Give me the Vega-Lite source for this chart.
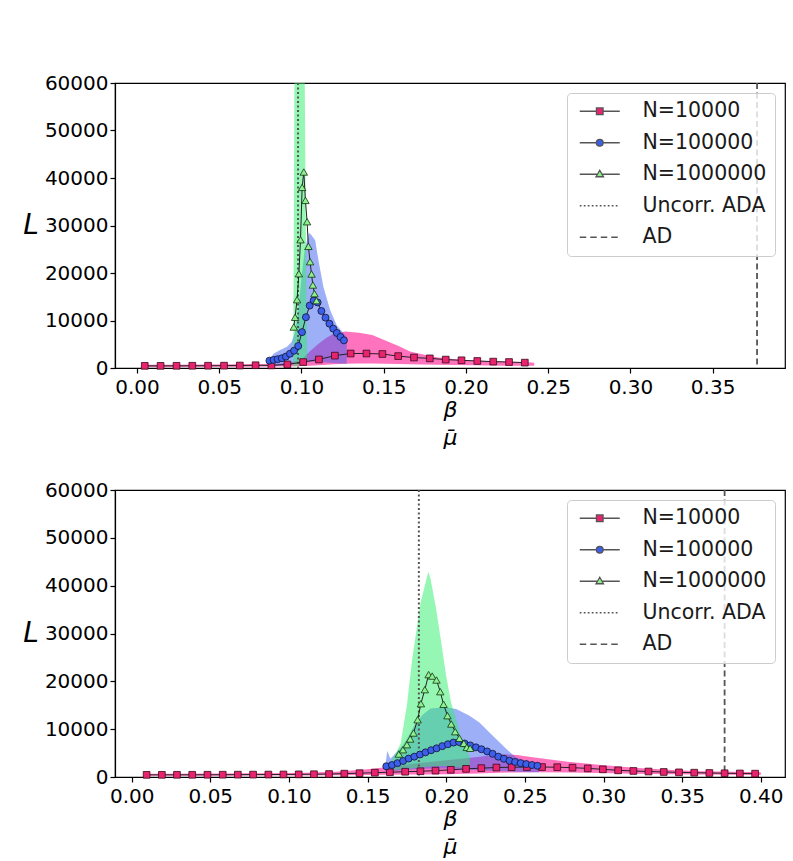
{
"$schema": "https://vega.github.io/schema/vega-lite/v6.json",
"padding": {"left": 22, "top": 72, "right": 5, "bottom": 5},
"background": "white",
"config": {
 "font": "DejaVu Sans",
 "view": {"stroke": "#000000", "strokeWidth": 1.2},
 "axis": {"grid": false, "domainColor": "#000000", "domainWidth": 1.2, "tickColor": "#000000", "tickSize": 5, "tickWidth": 1.2, "labelFont": "DejaVu Sans", "labelFontSize": 20, "labelColor": "#000000", "labelPadding": 4, "titleFont": "DejaVu Sans", "titleFontWeight": "normal", "titleFontStyle": "italic", "titleColor": "#000000", "labelOverlap": false, "labelFlush": false},
 "axisX": {"titleFontSize": 22, "titleLineHeight": 28, "titlePadding": 2},
 "axisY": {"titleFontSize": 28, "titleAngle": 0, "titleAlign": "right", "titleBaseline": "middle", "titlePadding": 6, "labelPadding": 2}
},
"datasets": {
 "tp": [
  {"s":"N=10000","x":0.0047,"y":450},{"s":"N=10000","x":0.0143,"y":450},{"s":"N=10000","x":0.0240,"y":460},{"s":"N=10000","x":0.0336,"y":470},{"s":"N=10000","x":0.0432,"y":480},{"s":"N=10000","x":0.0529,"y":490},{"s":"N=10000","x":0.0625,"y":520},{"s":"N=10000","x":0.0721,"y":580},{"s":"N=10000","x":0.0817,"y":550},{"s":"N=10000","x":0.0914,"y":750},{"s":"N=10000","x":0.1010,"y":1250},{"s":"N=10000","x":0.1106,"y":1800},{"s":"N=10000","x":0.1203,"y":2600},{"s":"N=10000","x":0.1299,"y":3050},{"s":"N=10000","x":0.1395,"y":3050},{"s":"N=10000","x":0.1492,"y":2950},{"s":"N=10000","x":0.1588,"y":2500},{"s":"N=10000","x":0.1684,"y":2200},{"s":"N=10000","x":0.1780,"y":2030},{"s":"N=10000","x":0.1877,"y":1770},{"s":"N=10000","x":0.1973,"y":1620},{"s":"N=10000","x":0.2069,"y":1480},{"s":"N=10000","x":0.2166,"y":1340},{"s":"N=10000","x":0.2262,"y":1260},{"s":"N=10000","x":0.2358,"y":1130},
  {"s":"N=100000","x":0.0805,"y":1550},{"s":"N=100000","x":0.0830,"y":1700},{"s":"N=100000","x":0.0855,"y":1850},{"s":"N=100000","x":0.0880,"y":2050},{"s":"N=100000","x":0.0905,"y":2400},{"s":"N=100000","x":0.0930,"y":3000},{"s":"N=100000","x":0.0955,"y":3650},{"s":"N=100000","x":0.0980,"y":4630},{"s":"N=100000","x":0.1003,"y":7550},{"s":"N=100000","x":0.1027,"y":10700},{"s":"N=100000","x":0.1050,"y":13150},{"s":"N=100000","x":0.1074,"y":14200},{"s":"N=100000","x":0.1098,"y":13800},{"s":"N=100000","x":0.1121,"y":12000},{"s":"N=100000","x":0.1146,"y":10600},{"s":"N=100000","x":0.1170,"y":9330},{"s":"N=100000","x":0.1193,"y":8280},{"s":"N=100000","x":0.1215,"y":7370},{"s":"N=100000","x":0.1237,"y":6530},{"s":"N=100000","x":0.1258,"y":5820},
  {"s":"N=1000000","x":0.0953,"y":8630},{"s":"N=1000000","x":0.0961,"y":10670},{"s":"N=1000000","x":0.0973,"y":14380},{"s":"N=1000000","x":0.0984,"y":19860},{"s":"N=1000000","x":0.0994,"y":27010},{"s":"N=1000000","x":0.1004,"y":38030},{"s":"N=1000000","x":0.1014,"y":41260},{"s":"N=1000000","x":0.1024,"y":35290},{"s":"N=1000000","x":0.1034,"y":30800},{"s":"N=1000000","x":0.1042,"y":25610},{"s":"N=1000000","x":0.1052,"y":22380},{"s":"N=1000000","x":0.1061,"y":19790},{"s":"N=1000000","x":0.1069,"y":17470},{"s":"N=1000000","x":0.1079,"y":15650},{"s":"N=1000000","x":0.1091,"y":14180}
 ],
 "tb": [
  {"s":"N=10000","x":0.0047,"lo":200,"hi":700},{"s":"N=10000","x":0.0240,"lo":220,"hi":700},{"s":"N=10000","x":0.0432,"lo":240,"hi":720},{"s":"N=10000","x":0.0625,"lo":260,"hi":780},{"s":"N=10000","x":0.0817,"lo":300,"hi":850},{"s":"N=10000","x":0.0914,"lo":330,"hi":1000},{"s":"N=10000","x":0.1000,"lo":400,"hi":1800},{"s":"N=10000","x":0.1050,"lo":500,"hi":3500},{"s":"N=10000","x":0.1100,"lo":600,"hi":5000},{"s":"N=10000","x":0.1150,"lo":700,"hi":6300},{"s":"N=10000","x":0.1200,"lo":800,"hi":7300},{"s":"N=10000","x":0.1267,"lo":900,"hi":7700},{"s":"N=10000","x":0.1350,"lo":950,"hi":7400},{"s":"N=10000","x":0.1430,"lo":950,"hi":6950},{"s":"N=10000","x":0.1510,"lo":900,"hi":5800},{"s":"N=10000","x":0.1590,"lo":850,"hi":4650},{"s":"N=10000","x":0.1660,"lo":800,"hi":3500},{"s":"N=10000","x":0.1733,"lo":750,"hi":2900},{"s":"N=10000","x":0.1830,"lo":700,"hi":2200},{"s":"N=10000","x":0.1936,"lo":650,"hi":1850},{"s":"N=10000","x":0.2040,"lo":600,"hi":1600},{"s":"N=10000","x":0.2138,"lo":550,"hi":1450},{"s":"N=10000","x":0.2250,"lo":500,"hi":1300},{"s":"N=10000","x":0.2401,"lo":450,"hi":1150},{"s":"N=10000","x":0.2415,"lo":450,"hi":1100},
  {"s":"N=100000","x":0.0800,"lo":500,"hi":1500},{"s":"N=100000","x":0.0830,"lo":500,"hi":3000},{"s":"N=100000","x":0.0870,"lo":600,"hi":3800},{"s":"N=100000","x":0.0910,"lo":700,"hi":4400},{"s":"N=100000","x":0.0940,"lo":800,"hi":5500},{"s":"N=100000","x":0.0960,"lo":900,"hi":7500},{"s":"N=100000","x":0.0980,"lo":1000,"hi":12000},{"s":"N=100000","x":0.1000,"lo":1100,"hi":19000},{"s":"N=100000","x":0.1020,"lo":1200,"hi":25000},{"s":"N=100000","x":0.1045,"lo":1300,"hi":28500},{"s":"N=100000","x":0.1060,"lo":1300,"hi":28000},{"s":"N=100000","x":0.1083,"lo":1300,"hi":26900},{"s":"N=100000","x":0.1103,"lo":1300,"hi":22700},{"s":"N=100000","x":0.1133,"lo":1200,"hi":17100},{"s":"N=100000","x":0.1174,"lo":1100,"hi":12200},{"s":"N=100000","x":0.1214,"lo":1000,"hi":9000},{"s":"N=100000","x":0.1264,"lo":900,"hi":7000},{"s":"N=100000","x":0.1275,"lo":900,"hi":6500},
  {"s":"N=1000000","x":0.0950,"lo":300,"hi":3000},{"s":"N=1000000","x":0.0958,"lo":300,"hi":70000},{"s":"N=1000000","x":0.1018,"lo":900,"hi":70000},{"s":"N=1000000","x":0.1025,"lo":1000,"hi":35000},{"s":"N=1000000","x":0.1030,"lo":1100,"hi":15000},{"s":"N=1000000","x":0.1034,"lo":1100,"hi":1100}
 ],
 "tv": [{"k":"ada","x":0.0979},{"k":"ad","x":0.377}],
 "bp": [
  {"s":"N=10000","x":0.0095,"y":450},{"s":"N=10000","x":0.0192,"y":450},{"s":"N=10000","x":0.0288,"y":460},{"s":"N=10000","x":0.0385,"y":460},{"s":"N=10000","x":0.0482,"y":470},{"s":"N=10000","x":0.0579,"y":480},{"s":"N=10000","x":0.0675,"y":490},{"s":"N=10000","x":0.0772,"y":500},{"s":"N=10000","x":0.0869,"y":510},{"s":"N=10000","x":0.0965,"y":530},{"s":"N=10000","x":0.1062,"y":550},{"s":"N=10000","x":0.1159,"y":580},{"s":"N=10000","x":0.1255,"y":620},{"s":"N=10000","x":0.1352,"y":700},{"s":"N=10000","x":0.1449,"y":800},{"s":"N=10000","x":0.1546,"y":900},{"s":"N=10000","x":0.1642,"y":1000},{"s":"N=10000","x":0.1739,"y":1100},{"s":"N=10000","x":0.1836,"y":1200},{"s":"N=10000","x":0.1932,"y":1330},{"s":"N=10000","x":0.2029,"y":1500},{"s":"N=10000","x":0.2126,"y":1700},{"s":"N=10000","x":0.2223,"y":1850},{"s":"N=10000","x":0.2319,"y":1980},{"s":"N=10000","x":0.2416,"y":2050},{"s":"N=10000","x":0.2513,"y":2080},{"s":"N=10000","x":0.2609,"y":2080},{"s":"N=10000","x":0.2706,"y":2050},{"s":"N=10000","x":0.2803,"y":1950},{"s":"N=10000","x":0.2900,"y":1800},{"s":"N=10000","x":0.2996,"y":1600},{"s":"N=10000","x":0.3093,"y":1400},{"s":"N=10000","x":0.3190,"y":1260},{"s":"N=10000","x":0.3286,"y":1150},{"s":"N=10000","x":0.3383,"y":1050},{"s":"N=10000","x":0.3480,"y":970},{"s":"N=10000","x":0.3577,"y":900},{"s":"N=10000","x":0.3673,"y":840},{"s":"N=10000","x":0.3770,"y":780},{"s":"N=10000","x":0.3867,"y":740},{"s":"N=10000","x":0.3964,"y":700},
  {"s":"N=100000","x":0.1619,"y":2250},{"s":"N=100000","x":0.1655,"y":2500},{"s":"N=100000","x":0.1690,"y":2900},{"s":"N=100000","x":0.1726,"y":3350},{"s":"N=100000","x":0.1761,"y":3850},{"s":"N=100000","x":0.1797,"y":4250},{"s":"N=100000","x":0.1833,"y":4700},{"s":"N=100000","x":0.1868,"y":5150},{"s":"N=100000","x":0.1904,"y":5600},{"s":"N=100000","x":0.1939,"y":6000},{"s":"N=100000","x":0.1975,"y":6450},{"s":"N=100000","x":0.2011,"y":6850},{"s":"N=100000","x":0.2046,"y":7200},{"s":"N=100000","x":0.2082,"y":7300},{"s":"N=100000","x":0.2117,"y":7000},{"s":"N=100000","x":0.2153,"y":6600},{"s":"N=100000","x":0.2189,"y":6200},{"s":"N=100000","x":0.2224,"y":5800},{"s":"N=100000","x":0.2260,"y":5350},{"s":"N=100000","x":0.2295,"y":4850},{"s":"N=100000","x":0.2331,"y":4250},{"s":"N=100000","x":0.2367,"y":3800},{"s":"N=100000","x":0.2402,"y":3400},{"s":"N=100000","x":0.2438,"y":3150},{"s":"N=100000","x":0.2473,"y":2900},{"s":"N=100000","x":0.2509,"y":2700},{"s":"N=100000","x":0.2545,"y":2500},{"s":"N=100000","x":0.2580,"y":2350},
  {"s":"N=1000000","x":0.1699,"y":4810},{"s":"N=1000000","x":0.1725,"y":5710},{"s":"N=1000000","x":0.1750,"y":6760},{"s":"N=1000000","x":0.1771,"y":7950},{"s":"N=1000000","x":0.1792,"y":9200},{"s":"N=1000000","x":0.1818,"y":11980},{"s":"N=1000000","x":0.1839,"y":15330},{"s":"N=1000000","x":0.1864,"y":18260},{"s":"N=1000000","x":0.1888,"y":21400},{"s":"N=1000000","x":0.1911,"y":21100},{"s":"N=1000000","x":0.1938,"y":20280},{"s":"N=1000000","x":0.1962,"y":17840},{"s":"N=1000000","x":0.1983,"y":15200},{"s":"N=1000000","x":0.2008,"y":12820},{"s":"N=1000000","x":0.2032,"y":11080},{"s":"N=1000000","x":0.2057,"y":9480},{"s":"N=1000000","x":0.2084,"y":8090},{"s":"N=1000000","x":0.2112,"y":7040},{"s":"N=1000000","x":0.2131,"y":6200},{"s":"N=1000000","x":0.2152,"y":6000}
 ],
 "bb": [
  {"s":"N=10000","x":0.0095,"lo":250,"hi":700},{"s":"N=10000","x":0.0300,"lo":260,"hi":700},{"s":"N=10000","x":0.0600,"lo":280,"hi":750},{"s":"N=10000","x":0.0900,"lo":300,"hi":800},{"s":"N=10000","x":0.1100,"lo":320,"hi":900},{"s":"N=10000","x":0.1300,"lo":350,"hi":1100},{"s":"N=10000","x":0.1500,"lo":400,"hi":1600},{"s":"N=10000","x":0.1600,"lo":450,"hi":2000},{"s":"N=10000","x":0.1800,"lo":500,"hi":2800},{"s":"N=10000","x":0.2000,"lo":600,"hi":3500},{"s":"N=10000","x":0.2200,"lo":750,"hi":4200},{"s":"N=10000","x":0.2342,"lo":900,"hi":4800},{"s":"N=10000","x":0.2450,"lo":950,"hi":4600},{"s":"N=10000","x":0.2561,"lo":1000,"hi":4100},{"s":"N=10000","x":0.2773,"lo":950,"hi":3200},{"s":"N=10000","x":0.2985,"lo":850,"hi":2500},{"s":"N=10000","x":0.3197,"lo":700,"hi":1950},{"s":"N=10000","x":0.3408,"lo":600,"hi":1530},{"s":"N=10000","x":0.3620,"lo":500,"hi":1180},{"s":"N=10000","x":0.3832,"lo":450,"hi":1110},{"s":"N=10000","x":0.4000,"lo":400,"hi":1000},
  {"s":"N=100000","x":0.1610,"lo":1200,"hi":1500},{"s":"N=100000","x":0.1625,"lo":1200,"hi":5500},{"s":"N=100000","x":0.1645,"lo":1200,"hi":3800},{"s":"N=100000","x":0.1680,"lo":1300,"hi":5000},{"s":"N=100000","x":0.1720,"lo":1400,"hi":6500},{"s":"N=100000","x":0.1760,"lo":1500,"hi":8500},{"s":"N=100000","x":0.1800,"lo":1600,"hi":11000},{"s":"N=100000","x":0.1850,"lo":1700,"hi":13000},{"s":"N=100000","x":0.1900,"lo":1800,"hi":14300},{"s":"N=100000","x":0.2000,"lo":1800,"hi":14600},{"s":"N=100000","x":0.2063,"lo":1700,"hi":14200},{"s":"N=100000","x":0.2148,"lo":1500,"hi":12800},{"s":"N=100000","x":0.2211,"lo":1400,"hi":11400},{"s":"N=100000","x":0.2296,"lo":1300,"hi":8600},{"s":"N=100000","x":0.2381,"lo":1200,"hi":5900},{"s":"N=100000","x":0.2444,"lo":1100,"hi":4100},{"s":"N=100000","x":0.2529,"lo":1000,"hi":3100},{"s":"N=100000","x":0.2590,"lo":1000,"hi":2500},
  {"s":"N=1000000","x":0.1640,"lo":1500,"hi":2500},{"s":"N=1000000","x":0.1680,"lo":1500,"hi":5000},{"s":"N=1000000","x":0.1710,"lo":1600,"hi":7000},{"s":"N=1000000","x":0.1750,"lo":1700,"hi":15000},{"s":"N=1000000","x":0.1784,"lo":1800,"hi":24700},{"s":"N=1000000","x":0.1837,"lo":2000,"hi":36500},{"s":"N=1000000","x":0.1886,"lo":2200,"hi":42900},{"s":"N=1000000","x":0.1900,"lo":2200,"hi":41500},{"s":"N=1000000","x":0.1936,"lo":2300,"hi":35100},{"s":"N=1000000","x":0.1968,"lo":2300,"hi":28200},{"s":"N=1000000","x":0.1999,"lo":2300,"hi":21200},{"s":"N=1000000","x":0.2031,"lo":2200,"hi":15600},{"s":"N=1000000","x":0.2063,"lo":2100,"hi":12100},{"s":"N=1000000","x":0.2095,"lo":2000,"hi":7950},{"s":"N=1000000","x":0.2127,"lo":1900,"hi":5850},{"s":"N=1000000","x":0.2150,"lo":1800,"hi":4000}
 ],
 "bv": [{"k":"ada","x":0.1826},{"k":"ad","x":0.377}]
},
"resolve": {"scale": {"color": "independent", "shape": "independent"}, "legend": {"color": "independent", "shape": "independent"}},
"spacing": 30,
"vconcat": [
 {
  "width": 670, "height": 285,
  "layer": [
   {"data": {"name": "tb"}, "transform": [{"filter": "datum.s === 'N=10000'"}], "mark": {"type": "area", "clip": true, "color": "#ff1493", "opacity": 0.6},
    "encoding": {"x": {"field": "x", "type": "quantitative", "title": ["β", "μ̄"], "scale": {"domain": [-0.0134, 0.394], "nice": false, "zero": false}, "axis": {"values": [0, 0.05, 0.1, 0.15, 0.2, 0.25, 0.3, 0.35], "format": ".2f"}},
     "y": {"field": "lo", "type": "quantitative", "title": "L", "scale": {"domain": [0, 60000], "nice": false}, "axis": {"values": [0, 10000, 20000, 30000, 40000, 50000, 60000], "format": "d"}}, "y2": {"field": "hi"}}},
   {"data": {"name": "tb"}, "transform": [{"filter": "datum.s === 'N=100000'"}], "mark": {"type": "area", "clip": true, "color": "#3a60f0", "opacity": 0.5},
    "encoding": {"x": {"field": "x", "type": "quantitative", "title": ["β", "μ̄"]}, "y": {"field": "lo", "type": "quantitative", "title": "L"}, "y2": {"field": "hi"}}},
   {"data": {"name": "tb"}, "transform": [{"filter": "datum.s === 'N=1000000'"}], "mark": {"type": "area", "clip": true, "color": "#2ef06a", "opacity": 0.5},
    "encoding": {"x": {"field": "x", "type": "quantitative", "title": ["β", "μ̄"]}, "y": {"field": "lo", "type": "quantitative", "title": "L"}, "y2": {"field": "hi"}}},
   {"data": {"name": "tv"}, "transform": [{"filter": "datum.k === 'ada'"}], "mark": {"type": "rule", "color": "#555555", "strokeWidth": 2, "strokeDash": [2, 2.5]},
    "encoding": {"x": {"field": "x", "type": "quantitative", "title": ["β", "μ̄"]}}},
   {"data": {"name": "tv"}, "transform": [{"filter": "datum.k === 'ad'"}], "mark": {"type": "rule", "color": "#555555", "strokeWidth": 1.8, "strokeDash": [6, 3.5]},
    "encoding": {"x": {"field": "x", "type": "quantitative", "title": ["β", "μ̄"]}}},
   {"data": {"name": "tp"}, "mark": {"type": "line", "color": "#222222", "strokeWidth": 1, "clip": true},
    "encoding": {"x": {"field": "x", "type": "quantitative", "title": ["β", "μ̄"]}, "y": {"field": "y", "type": "quantitative", "title": "L"}, "detail": {"field": "s", "type": "nominal"}}},
   {"data": {"name": "tp"}, "transform": [{"filter": "datum.s === 'N=10000'"}], "mark": {"type": "point", "shape": "square", "filled": true, "fill": "#e8246e", "stroke": "#3a0a1a", "strokeWidth": 0.8, "size": 45, "opacity": 1},
    "encoding": {"x": {"field": "x", "type": "quantitative", "title": ["β", "μ̄"]}, "y": {"field": "y", "type": "quantitative", "title": "L"}}},
   {"data": {"name": "tp"}, "transform": [{"filter": "datum.s === 'N=100000'"}], "mark": {"type": "point", "shape": "circle", "filled": true, "fill": "#3b5fe8", "stroke": "#111133", "strokeWidth": 0.8, "size": 49, "opacity": 1},
    "encoding": {"x": {"field": "x", "type": "quantitative", "title": ["β", "μ̄"]}, "y": {"field": "y", "type": "quantitative", "title": "L"}}},
   {"data": {"name": "tp"}, "transform": [{"filter": "datum.s === 'N=1000000'"}], "mark": {"type": "point", "shape": "triangle-up", "filled": true, "fill": "#8ff08f", "stroke": "#113311", "strokeWidth": 0.8, "size": 55, "opacity": 1},
    "encoding": {"x": {"field": "x", "type": "quantitative", "title": ["β", "μ̄"]}, "y": {"field": "y", "type": "quantitative", "title": "L"}}},
   {"data": {"name": "tp"}, "transform": [{"filter": "false"}], "mark": {"type": "point", "filled": true, "size": 100},
    "encoding": {
     "color": {"field": "s", "type": "nominal", "scale": {"domain": ["N=10000", "N=100000", "N=1000000", "Uncorr. ADA", "AD"], "range": ["#e8246e", "#3b5fe8", "#8ff08f", "#ffffff", "#ffffff"]},
      "legend": {"title": null, "orient": "top-right", "offset": 10, "padding": 8, "fillColor": "rgba(255,255,255,0.8)", "strokeColor": "#cccccc", "cornerRadius": 4, "labelFont": "DejaVu Sans", "labelFontSize": 20.5, "labelColor": "#1a1a1a", "labelLimit": 400, "labelOffset": 47, "rowPadding": 10.5, "symbolSize": 100, "symbolStrokeColor": "#555555", "symbolStrokeWidth": 1.3, "symbolOpacity": 1, "encode": {"symbols": {"update": {"stroke": {"value": "#555555"}, "strokeWidth": {"value": 1.3}}}}}},
     "shape": {"field": "s", "type": "nominal", "scale": {"domain": ["N=10000", "N=100000", "N=1000000", "Uncorr. ADA", "AD"], "range": ["M-1.1,0H2.24M3.56,0H6.9M2.24,-0.66H3.56V0.66H2.24Z", "M-1.1,0H2.22M3.58,0H6.9M2.22,0A0.68,0.68,0,1,0,3.58,0A0.68,0.68,0,1,0,2.22,0Z", "M-1.1,0H2.35M3.45,0H6.9M2.9,-0.8L3.65,0.5L2.15,0.5Z", "M-1.1,0h0.35M-0.3,0h0.35M0.5,0h0.35M1.3,0h0.35M2.1,0h0.35M2.9,0h0.35M3.7,0h0.35M4.5,0h0.35M5.3,0h0.35M6.1,0h0.35", "M-1.1,0H0.2M1.0,0H2.3M3.1,0H4.4M5.2,0H6.5"]},
      "legend": {"title": null, "orient": "top-right", "offset": 10, "padding": 8, "fillColor": "rgba(255,255,255,0.8)", "strokeColor": "#cccccc", "cornerRadius": 4, "labelFont": "DejaVu Sans", "labelFontSize": 20.5, "labelColor": "#1a1a1a", "labelLimit": 400, "labelOffset": 47, "rowPadding": 10.5, "symbolSize": 100, "symbolStrokeColor": "#555555", "symbolStrokeWidth": 1.3, "symbolOpacity": 1, "encode": {"symbols": {"update": {"stroke": {"value": "#555555"}, "strokeWidth": {"value": 1.3}}}}}}
    }}
  ]
 },
 {
  "width": 670, "height": 287,
  "layer": [
   {"data": {"name": "bb"}, "transform": [{"filter": "datum.s === 'N=10000'"}], "mark": {"type": "area", "clip": true, "color": "#ff1493", "opacity": 0.6},
    "encoding": {"x": {"field": "x", "type": "quantitative", "title": ["β", "μ̄"], "scale": {"domain": [-0.0106, 0.4154], "nice": false, "zero": false}, "axis": {"values": [0, 0.05, 0.1, 0.15, 0.2, 0.25, 0.3, 0.35, 0.4], "format": ".2f"}},
     "y": {"field": "lo", "type": "quantitative", "title": "L", "scale": {"domain": [0, 60000], "nice": false}, "axis": {"values": [0, 10000, 20000, 30000, 40000, 50000, 60000], "format": "d"}}, "y2": {"field": "hi"}}},
   {"data": {"name": "bb"}, "transform": [{"filter": "datum.s === 'N=100000'"}], "mark": {"type": "area", "clip": true, "color": "#3a60f0", "opacity": 0.5},
    "encoding": {"x": {"field": "x", "type": "quantitative", "title": ["β", "μ̄"]}, "y": {"field": "lo", "type": "quantitative", "title": "L"}, "y2": {"field": "hi"}}},
   {"data": {"name": "bb"}, "transform": [{"filter": "datum.s === 'N=1000000'"}], "mark": {"type": "area", "clip": true, "color": "#2ef06a", "opacity": 0.5},
    "encoding": {"x": {"field": "x", "type": "quantitative", "title": ["β", "μ̄"]}, "y": {"field": "lo", "type": "quantitative", "title": "L"}, "y2": {"field": "hi"}}},
   {"data": {"name": "bv"}, "transform": [{"filter": "datum.k === 'ada'"}], "mark": {"type": "rule", "color": "#555555", "strokeWidth": 2, "strokeDash": [2, 2.5]},
    "encoding": {"x": {"field": "x", "type": "quantitative", "title": ["β", "μ̄"]}}},
   {"data": {"name": "bv"}, "transform": [{"filter": "datum.k === 'ad'"}], "mark": {"type": "rule", "color": "#555555", "strokeWidth": 1.8, "strokeDash": [6, 3.5]},
    "encoding": {"x": {"field": "x", "type": "quantitative", "title": ["β", "μ̄"]}}},
   {"data": {"name": "bp"}, "mark": {"type": "line", "color": "#222222", "strokeWidth": 1, "clip": true},
    "encoding": {"x": {"field": "x", "type": "quantitative", "title": ["β", "μ̄"]}, "y": {"field": "y", "type": "quantitative", "title": "L"}, "detail": {"field": "s", "type": "nominal"}}},
   {"data": {"name": "bp"}, "transform": [{"filter": "datum.s === 'N=10000'"}], "mark": {"type": "point", "shape": "square", "filled": true, "fill": "#e8246e", "stroke": "#3a0a1a", "strokeWidth": 0.8, "size": 45, "opacity": 1},
    "encoding": {"x": {"field": "x", "type": "quantitative", "title": ["β", "μ̄"]}, "y": {"field": "y", "type": "quantitative", "title": "L"}}},
   {"data": {"name": "bp"}, "transform": [{"filter": "datum.s === 'N=100000'"}], "mark": {"type": "point", "shape": "circle", "filled": true, "fill": "#3b5fe8", "stroke": "#111133", "strokeWidth": 0.8, "size": 49, "opacity": 1},
    "encoding": {"x": {"field": "x", "type": "quantitative", "title": ["β", "μ̄"]}, "y": {"field": "y", "type": "quantitative", "title": "L"}}},
   {"data": {"name": "bp"}, "transform": [{"filter": "datum.s === 'N=1000000'"}], "mark": {"type": "point", "shape": "triangle-up", "filled": true, "fill": "#8ff08f", "stroke": "#113311", "strokeWidth": 0.8, "size": 55, "opacity": 1},
    "encoding": {"x": {"field": "x", "type": "quantitative", "title": ["β", "μ̄"]}, "y": {"field": "y", "type": "quantitative", "title": "L"}}},
   {"data": {"name": "bp"}, "transform": [{"filter": "false"}], "mark": {"type": "point", "filled": true, "size": 100},
    "encoding": {
     "color": {"field": "s", "type": "nominal", "scale": {"domain": ["N=10000", "N=100000", "N=1000000", "Uncorr. ADA", "AD"], "range": ["#e8246e", "#3b5fe8", "#8ff08f", "#ffffff", "#ffffff"]},
      "legend": {"title": null, "orient": "top-right", "offset": 10, "padding": 8, "fillColor": "rgba(255,255,255,0.8)", "strokeColor": "#cccccc", "cornerRadius": 4, "labelFont": "DejaVu Sans", "labelFontSize": 20.5, "labelColor": "#1a1a1a", "labelLimit": 400, "labelOffset": 47, "rowPadding": 10.5, "symbolSize": 100, "symbolStrokeColor": "#555555", "symbolStrokeWidth": 1.3, "symbolOpacity": 1, "encode": {"symbols": {"update": {"stroke": {"value": "#555555"}, "strokeWidth": {"value": 1.3}}}}}},
     "shape": {"field": "s", "type": "nominal", "scale": {"domain": ["N=10000", "N=100000", "N=1000000", "Uncorr. ADA", "AD"], "range": ["M-1.1,0H2.24M3.56,0H6.9M2.24,-0.66H3.56V0.66H2.24Z", "M-1.1,0H2.22M3.58,0H6.9M2.22,0A0.68,0.68,0,1,0,3.58,0A0.68,0.68,0,1,0,2.22,0Z", "M-1.1,0H2.35M3.45,0H6.9M2.9,-0.8L3.65,0.5L2.15,0.5Z", "M-1.1,0h0.35M-0.3,0h0.35M0.5,0h0.35M1.3,0h0.35M2.1,0h0.35M2.9,0h0.35M3.7,0h0.35M4.5,0h0.35M5.3,0h0.35M6.1,0h0.35", "M-1.1,0H0.2M1.0,0H2.3M3.1,0H4.4M5.2,0H6.5"]},
      "legend": {"title": null, "orient": "top-right", "offset": 10, "padding": 8, "fillColor": "rgba(255,255,255,0.8)", "strokeColor": "#cccccc", "cornerRadius": 4, "labelFont": "DejaVu Sans", "labelFontSize": 20.5, "labelColor": "#1a1a1a", "labelLimit": 400, "labelOffset": 47, "rowPadding": 10.5, "symbolSize": 100, "symbolStrokeColor": "#555555", "symbolStrokeWidth": 1.3, "symbolOpacity": 1, "encode": {"symbols": {"update": {"stroke": {"value": "#555555"}, "strokeWidth": {"value": 1.3}}}}}}
    }}
  ]
 }
]
}
